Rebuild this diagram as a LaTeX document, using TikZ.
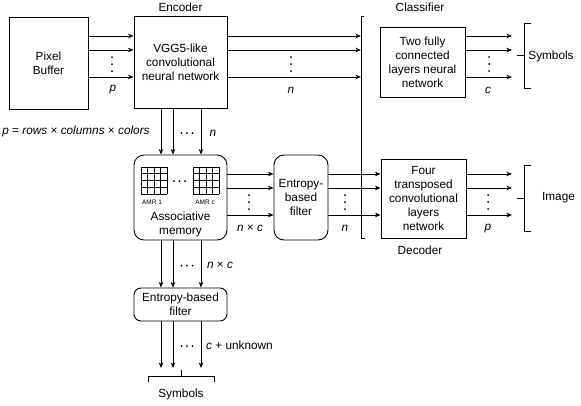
\documentclass[tikz,border=0pt]{standalone}
\usepackage{fontspec}
\setmainfont{Liberation Sans}
\usetikzlibrary{arrows.meta}
\begin{document}
\begin{tikzpicture}[x=1pt,y=-1pt,
  every node/.style={font=\fontsize{11.8}{14}\selectfont, inner sep=0pt},
  box/.style={draw, line width=0.9pt, align=center},
  rbox/.style={box, rounded corners=10pt},
  arr/.style={line width=0.9pt, -{Stealth[length=5.5pt,width=4.5pt,inset=1.5pt]}},
  ln/.style={line width=0.9pt},
  gridln/.style={line width=0.6pt},
  lbl/.style={font=\fontsize{11.8}{14}\selectfont\itshape},
  small/.style={font=\fontsize{6.5}{7}\selectfont},
  dotc/.style={fill=black, draw=none}
]
\useasboundingbox (0,0) rectangle (581,405);

% ---------- boxes ----------
\node[box, minimum width=79pt, minimum height=92pt] (pb) at (48.5,63) {Pixel\\Buffer};
\node[box, minimum width=93pt, minimum height=92pt] (enc) at (180.5,62) {VGG5-like\\convolutional\\neural network};
\node (enclbl) at (180.5,7) {Encoder};

\node[box, minimum width=85pt, minimum height=70pt] (cls) at (422.5,62) {Two fully\\connected\\layers neural\\network};
\node (clslbl) at (420,7) {Classifier};

\node[rbox, minimum width=93pt, minimum height=85pt] (am) at (180.5,197.5) {};
\node[align=center] (amtxt) at (180.5,224.5) {Associative\\memory};

\node[rbox, minimum width=54pt, minimum height=85pt] (ef) at (301,197.5) {Entropy-\\based\\filter};

\node[box, minimum width=85pt, minimum height=79pt] (dec) at (423.5,198.5) {Four\\transposed\\convolutional\\layers\\network};
\node (declbl) at (420,250) {Decoder};

\node[rbox, rounded corners=7pt, minimum width=93pt, minimum height=33pt] (bf) at (180.5,304.5) {Entropy-based\\filter};

% ---------- AMR grids ----------
\foreach \k in {0,...,4} {
  \draw[gridln] ({141+6.5*\k},167) -- ({141+6.5*\k},194);
  \draw[gridln] (141,{167+6.75*\k}) -- (167,{167+6.75*\k});
  \draw[gridln] ({193+6.5*\k},167) -- ({193+6.5*\k},194);
  \draw[gridln] (193,{167+6.75*\k}) -- (219,{167+6.75*\k});
}
\foreach \xx in {174,179.5,185} \fill[dotc] (\xx,181) circle (1pt);
\node[small] (amr1) at (152,202) {AMR 1};
\node[small] (amrc) at (205,202) {AMR \textit{c}};

% ---------- split bar ----------
\coordinate (bartop) at (361,16);
\coordinate (barbot) at (361,238);
\draw[ln] (364,16) -- (bartop) -- (barbot) -- (365,238);

% ---------- free ends ----------
\coordinate (clsout) at (512,0);
\coordinate (decout) at (512,0);

% ---------- horizontal arrows, top row ----------
\foreach \yy in {36,50,77} {
  \draw[arr] (pb.east |- 0,\yy) -- (enc.west |- 0,\yy);
  \draw[arr] (enc.east |- 0,\yy) -- (bartop |- 0,\yy);
  \draw[arr] (cls.east |- 0,\yy) -- (clsout |- 0,\yy);
}
\foreach \yy in {57,64,71} {
  \fill[dotc] (112,\yy) circle (1pt);
  \fill[dotc] (291,\yy) circle (1pt);
  \fill[dotc] (489,\yy) circle (1pt);
}
\node[lbl] (lp1) at (113,90) {p};
\node[lbl] (ln1) at (291,90) {n};
\node[lbl] (lc1) at (488,90) {c};

% ---------- horizontal arrows, middle row ----------
\foreach \yy in {174,188,215} {
  \draw[arr] (am.east |- 0,\yy) -- (ef.west |- 0,\yy);
  \draw[arr] (ef.east |- 0,\yy) -- (dec.west |- 0,\yy);
  \draw[arr] (dec.east |- 0,\yy) -- (decout |- 0,\yy);
}
\foreach \yy in {195,202,209} {
  \fill[dotc] (249,\yy) circle (1pt);
  \fill[dotc] (345,\yy) circle (1pt);
  \fill[dotc] (488,\yy) circle (1pt);
}
\node (lnc1) at (250,228.5) {\textit{n} × \textit{c}};
\node[lbl] (ln2) at (345,228.5) {n};
\node[lbl] (lp2) at (488,228.5) {p};

% ---------- vertical arrows ----------
\foreach \xx in {161,173,201} {
  \draw[arr] (enc.south -| \xx,0) -- (am.north -| \xx,0);
  \draw[arr] (am.south -| \xx,0) -- (bf.north -| \xx,0);
  \coordinate (bfout\xx) at (\xx,368);
  \draw[arr] (bf.south -| \xx,0) -- (bfout\xx);
}
\foreach \xx in {181.5,187,192.5} {
  \fill[dotc] (\xx,133) circle (1pt);
  \fill[dotc] (\xx,265.5) circle (1pt);
  \fill[dotc] (\xx,346) circle (1pt);
}
\node[lbl] (ln3) at (213,133) {n};
\node (pform) at (76,131) {\textit{p} = \textit{rows} × \textit{columns} × \textit{colors}};
\node (lnc2) at (220,265) {\textit{n} × \textit{c}};
\node (lcu) at (239.5,345.5) {\textit{c} + unknown};

% ---------- output brackets ----------
\draw[ln] (531,23) -- (524,23) -- (524,88) -- (531,88);
\draw[ln] (517,55.5) -- (524,55.5);
\node (sym1) at (551,56) {Symbols};

\draw[ln] (531,165) -- (524,165) -- (524,231) -- (531,231);
\draw[ln] (517,198) -- (524,198);
\node (img) at (558.5,198) {Image};

\draw[ln] (148,382) -- (148,376) -- (214,376) -- (214,382);
\draw[ln] (181,376) -- (181,370);
\node (sym2) at (181,394.5) {Symbols};
\end{tikzpicture}
\end{document}
